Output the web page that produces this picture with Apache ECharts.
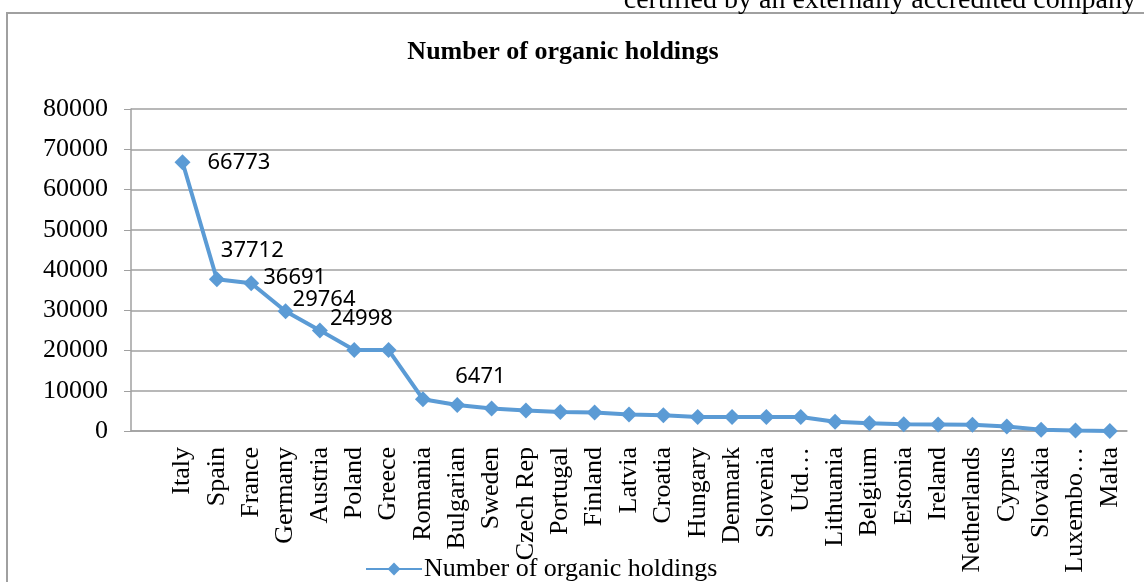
<!DOCTYPE html>
<html>
<head>
<meta charset="utf-8">
<title>Number of organic holdings</title>
<script src="https://cdn.jsdelivr.net/npm/echarts@6/dist/echarts.min.js"></script>
<style>
  html, body { margin: 0; padding: 0; background: #fff; }
  #chart { width: 1144px; height: 582px; }
</style>
</head>
<body>
<div id="chart"></div>
<script>
// first slot is an empty category (the source chart has a blank one before Italy)
var countries = ['', 'Italy', 'Spain', 'France', 'Germany', 'Austria', 'Poland', 'Greece', 'Romania',
  'Bulgarian', 'Sweden', 'Czech Rep', 'Portugal', 'Finland', 'Latvia', 'Croatia', 'Hungary',
  'Denmark', 'Slovenia', 'Utd…', 'Lithuania', 'Belgium', 'Estonia', 'Ireland', 'Netherlands',
  'Cyprus', 'Slovakia', 'Luxembo…', 'Malta']
var holdings = [null, 66773, 37712, 36691, 29764, 24998, 20100, 20100, 7900,
  6471, 5600, 5100, 4700, 4600, 4100, 3900, 3500,
  3500, 3500, 3500, 2300, 1900, 1650, 1600, 1550,
  1100, 300, 100, 20]
// label offsets for the points that show a value
var labelOffsets = {
  1: [12, 0],
  2: [-9, -28],
  3: [-1, -6],
  4: [-6, -11],
  5: [-3, -12],
  9: [-15, -28]
}

var serif = '"Liberation Serif", "Times New Roman", serif'
var grey = '#a0a0a0'

var seriesData = holdings.map(function (v, i) {
  var item = { value: v === null ? '-' : v }
  if (labelOffsets[i]) {
    item.label = {
      show: true,
      position: 'right',
      distance: 5,
      offset: labelOffsets[i],
      formatter: '{c}',
      color: '#000',
      fontFamily: '"Noto Sans", sans-serif',
      fontSize: 22
    }
  }
  return item
})

var option = {
  animation: false,
  backgroundColor: '#fff',
  title: {
    text: 'Number of organic holdings',
    left: 563,
    textAlign: 'center',
    top: 39,
    padding: 0,
    textStyle: { fontFamily: serif, fontWeight: 'bold', fontSize: 26, color: '#000' }
  },
  graphic: [
    { // chart frame
      type: 'rect',
      shape: { x: 7, y: 13, width: 1300, height: 700 },
      style: { fill: 'none', stroke: grey, lineWidth: 2 },
      silent: true
    },
    { // caption left over from the page above, cut off at the top
      type: 'text',
      right: 8,
      top: -13,
      style: { text: 'certified by an externally accredited company', font: '28px ' + serif, fill: '#000' },
      silent: true
    }
  ],
  legend: {
    left: 360,
    top: 551,
    itemWidth: 56,
    itemHeight: 16,
    itemGap: 10,
    textStyle: { fontFamily: serif, fontSize: 26, color: '#000', padding: [0, 0, 0, -3] },
    data: ['Number of organic holdings']
  },
  grid: { left: 131, right: 17, top: 109, bottom: 151 },
  xAxis: {
    type: 'category',
    data: countries,
    boundaryGap: true,
    axisLine: { lineStyle: { color: grey, width: 1.5 } },
    axisTick: { length: 6, lineStyle: { color: grey } },
    axisLabel: { rotate: 90, interval: 0, margin: 16, color: '#000', fontFamily: serif, fontSize: 26 }
  },
  yAxis: {
    type: 'value',
    min: 0,
    max: 80000,
    interval: 10000,
    axisLine: { show: true, lineStyle: { color: grey, width: 1.5 } },
    axisTick: { show: true, length: 7, lineStyle: { color: grey } },
    axisLabel: { margin: 23, color: '#000', fontFamily: serif, fontSize: 26, formatter: function (v) { return String(v) } },
    splitLine: { lineStyle: { color: grey, width: 1.5 } }
  },
  series: [{
    name: 'Number of organic holdings',
    type: 'line',
    data: seriesData,
    symbol: 'diamond',
    symbolSize: 16,
    connectNulls: true,
    color: '#5b9bd5',
    lineStyle: { width: 4, color: '#5b9bd5' },
    itemStyle: { color: '#5b9bd5' }
  }]
}

var myChart = echarts.init(document.getElementById('chart'))
myChart.setOption(option)
</script>
</body>
</html>
